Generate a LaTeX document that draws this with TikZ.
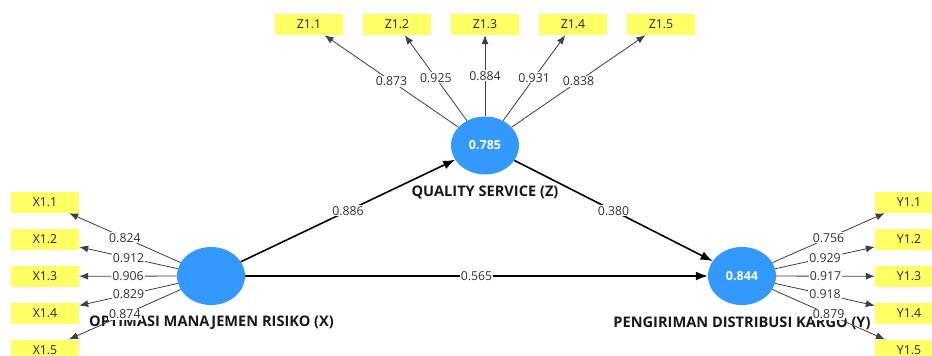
\documentclass[tikz,border=0pt]{standalone}
\usepackage{fontspec}
\setmainfont{Open Sans}
\usetikzlibrary{arrows.meta,shapes.geometric}
\definecolor{lvblue}{RGB}{51,153,255}
\definecolor{indyellow}{RGB}{255,255,102}
\definecolor{wtgray}{RGB}{50,50,50}
\begin{document}
\begin{tikzpicture}[x=1pt,y=-1pt,
  latent/.style={ellipse,fill=lvblue,minimum width=68pt,minimum height=58pt,inner sep=0pt,text=white,font=\bfseries\fontsize{12.5}{14}\selectfont},
  indicator/.style={rectangle,fill=indyellow,minimum width=68pt,minimum height=21pt,inner sep=0pt,text=black!85,font=\fontsize{12.3}{14}\selectfont},
  loading/.style={draw=black!75,line width=0.8pt,-{Latex[length=9pt,width=7pt]}},
  pathc/.style={draw=black,line width=1.6pt,-{Latex[length=12pt,width=9pt]}},
  wt/.style={fill=white,inner sep=1pt,text=wtgray,font=\fontsize{12.3}{14}\selectfont},
  lvlabel/.style={inner sep=0pt,text=black!90,font=\bfseries\fontsize{14.6}{16}\selectfont}]
\clip (0,0) rectangle (932,356);
\fill[white] (0,0) rectangle (932,356);
% latent variables
\node[latent] (X) at (211,276) {};
\node[latent] (Z) at (485,145.5) {0.785};
\node[latent] (Y) at (742,276) {0.844};
% indicators
\node[indicator] (X11) at (45,202.5) {X1.1};
\node[indicator] (X12) at (45,239.4) {X1.2};
\node[indicator] (X13) at (45,276.3) {X1.3};
\node[indicator] (X14) at (45,313.2) {X1.4};
\node[indicator] (X15) at (45,350.1) {X1.5};
\node[indicator] (Y11) at (909,202.5) {Y1.1};
\node[indicator] (Y12) at (909,239.4) {Y1.2};
\node[indicator] (Y13) at (909,276.3) {Y1.3};
\node[indicator] (Y14) at (909,313.2) {Y1.4};
\node[indicator] (Y15) at (909,350.1) {Y1.5};
\node[indicator] (Z11) at (309,24.5) {Z1.1};
\node[indicator] (Z12) at (397,24.5) {Z1.2};
\node[indicator] (Z13) at (485,24.5) {Z1.3};
\node[indicator] (Z14) at (573,24.5) {Z1.4};
\node[indicator] (Z15) at (661,24.5) {Z1.5};
% latent labels
\node[lvlabel] (LZ) at (485,192) {QUALITY SERVICE (Z)};
\node[lvlabel] (LX) at (211.5,323) {OPTIMASI MANAJEMEN RISIKO (X)};
\node[lvlabel] (LY) at (742,323) {PENGIRIMAN DISTRIBUSI KARGO (Y)};
% outer loadings
\draw[loading] (X) -- node[wt] {0.824} (X11);
\draw[loading] (X) -- node[wt] {0.912} (X12);
\draw[loading] (X) -- node[wt] {0.906} (X13);
\draw[loading] (X) -- node[wt] {0.829} (X14);
\draw[loading] (X) -- node[wt] {0.874} (X15);
\draw[loading] (Z) -- node[wt] {0.873} (Z11);
\draw[loading] (Z) -- node[wt] {0.925} (Z12);
\draw[loading] (Z) -- node[wt] {0.884} (Z13);
\draw[loading] (Z) -- node[wt] {0.931} (Z14);
\draw[loading] (Z) -- node[wt] {0.838} (Z15);
\draw[loading] (Y) -- node[wt] {0.756} (Y11);
\draw[loading] (Y) -- node[wt] {0.929} (Y12);
\draw[loading] (Y) -- node[wt] {0.917} (Y13);
\draw[loading] (Y) -- node[wt] {0.918} (Y14);
\draw[loading] (Y) -- node[wt] {0.879} (Y15);
% path coefficients
\draw[pathc] (X) -- node[wt] {0.886} (Z);
\draw[pathc] (Z) -- node[wt] {0.380} (Y);
\draw[pathc] (X) -- node[wt] {0.565} (Y);
\end{tikzpicture}
\end{document}
